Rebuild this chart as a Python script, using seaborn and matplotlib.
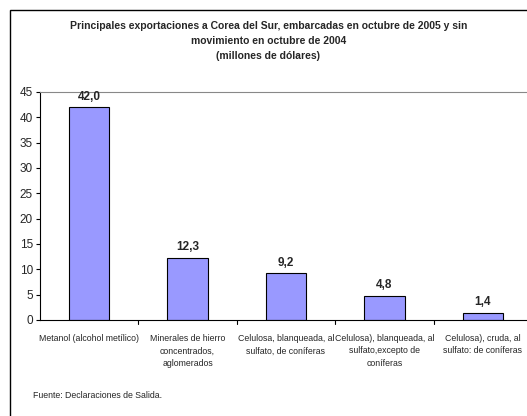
import matplotlib
matplotlib.use("Agg")
import matplotlib.pyplot as plt
import seaborn as sns
import pandas as pd
from matplotlib.patches import Rectangle

categories = [
    "Metanol (alcohol metílico)",
    "Minerales de hierro\nconcentrados,\naglomerados",
    "Celulosa, blanqueada, al\nsulfato, de coníferas",
    "Celulosa), blanqueada, al\nsulfato,excepto de\nconíferas",
    "Celulosa), cruda, al\nsulfato: de coníferas",
]
values = [42.0, 12.3, 9.2, 4.8, 1.4]
value_labels = ["42,0", "12,3", "9,2", "4,8", "1,4"]
yticks = [0, 5, 10, 15, 20, 25, 30, 35, 40, 45]

sns.set_theme(style="white")
plt.rcParams['font.family'] = ['Liberation Sans', 'DejaVu Sans']

W, H = 527, 416
fig = plt.figure(figsize=(W / 100, H / 100), dpi=100)

# outer frame
fig.patches.append(Rectangle((10 / W, -0.1), 1.2, (H - 10) / H + 0.1, transform=fig.transFigure,
                             fill=False, edgecolor="black", linewidth=1.0, zorder=0))

ax_left, ax_right = 40, 532
ax_top, ax_bot = 92, 320
ax = fig.add_axes([ax_left / W, 1 - ax_bot / H, (ax_right - ax_left) / W, (ax_bot - ax_top) / H])

df = pd.DataFrame({"cat": categories, "val": values})
sns.barplot(data=df, x="cat", y="val", ax=ax, color="#9999FF", saturation=1,
            width=0.41, edgecolor="black", linewidth=0.8)

ax.set_ylim(0, 45)
ax.set_xlim(-0.5, 4.5)
ax.set_yticks(yticks)
ax.set_yticklabels([str(t) for t in yticks], fontsize=8.5)
ax.set_xticks(range(len(categories)))
ax.set_xticklabels(categories, fontsize=6.3, linespacing=1.5)
ax.tick_params(axis="x", length=0, pad=10)
ax.tick_params(axis="y", length=3, pad=2, direction="out", left=True, width=0.8, color="black")
# category separator ticks
for b in [0.5, 1.5, 2.5, 3.5]:
    ax.plot([b, b], [0, -0.7], color="black", linewidth=0.8, clip_on=False)
ax.set_xlabel("")
ax.set_ylabel("")

for s in ["left", "bottom"]:
    ax.spines[s].set_color("black")
    ax.spines[s].set_linewidth(0.8)
ax.spines["top"].set_color("#888888")
ax.spines["top"].set_linewidth(0.8)
ax.spines["right"].set_visible(False)

for i, (v, lab) in enumerate(zip(values, value_labels)):
    ax.text(i, v + 0.9, lab, ha="center", va="bottom", fontsize=8.5, fontweight="bold")

fig.text(0.5 * (10 + 527) / W, 1 - 21 / H,
         "Principales exportaciones a Corea del Sur, embarcadas en octubre de 2005 y sin\n"
         "movimiento en octubre de 2004\n(millones de dólares)",
         ha="center", va="top", fontsize=7.5, fontweight="bold", linespacing=1.62)

fig.text(33 / W, 1 - 395 / H, "Fuente: Declaraciones de Salida.", ha="left", va="center", fontsize=6.3)

fig.savefig("out.png", dpi=100)
